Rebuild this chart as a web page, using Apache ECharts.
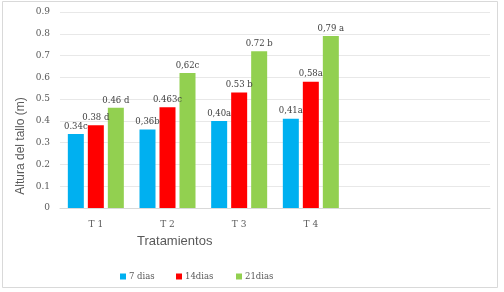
<!DOCTYPE html>
<html><head><meta charset="utf-8">
<script src="https://cdn.jsdelivr.net/npm/echarts@6/dist/echarts.min.js"></script>
<style>html,body{margin:0;padding:0;background:#fff}#c{width:504px;height:292px}</style>
</head><body><div id="c"></div>
<script>
const categories = ['T 1', 'T 2', 'T 3', 'T 4', '', ''];
const seriesNames = ['7 dias', '14dias', '21dias'];
const dias7 = [0.34, 0.36, 0.40, 0.41];
const dias14 = [0.38, 0.463, 0.53, 0.58];
const dias21 = [0.46, 0.62, 0.72, 0.79];
const labels7 = ['0.34c', '0,36b', '0,40a', '0,41a'];
const labels14 = ['0.38 d', '0.463c', '0.53 b', '0,58a'];
const labels21 = ['0.46 d', '0,62c', '0.72 b', '0,79 a'];
const colors = ['#00b0f0', '#ff0000', '#92d050'];
const serifFont = 'DejaVu Serif';
const sansFont = 'Liberation Sans';

function mk(name, vals, labs, color) {
  return {
    name: name, type: 'bar', barWidth: 16, barGap: '25%',
    itemStyle: { color: color },
    label: {
      show: true, position: 'top', distance: 3,
      fontFamily: serifFont, fontSize: 8.5, color: '#404040',
      formatter: p => labs[p.dataIndex]
    },
    data: vals
  };
}
function lg(name, left) {
  return {
    left: left, top: 267, itemWidth: 6, itemHeight: 6, icon: 'rect',
    textStyle: { fontFamily: serifFont, fontSize: 8.5, color: '#595959', padding: [0, 0, 0, -2] },
    data: [name]
  };
}
const chart = echarts.init(document.getElementById('c'), null, { renderer: 'canvas' });
chart.setOption({
  animation: false,
  backgroundColor: '#ffffff',
  grid: { left: 60, right: 14, top: 12, bottom: 84 },
  graphic: [
    { type: 'rect', shape: { x: 2.5, y: 1.5, width: 495, height: 286 }, style: { fill: 'none', stroke: '#d9d9d9', lineWidth: 1 }, silent: true },
    { type: 'text', left: 137, top: 235, style: { text: 'Tratamientos', font: '13px ' + sansFont, fill: '#595959' } },
    { type: 'text', x: 21, y: 146, rotation: Math.PI / 2, silent: true,
      style: { text: 'Altura del tallo (m)', font: '12px ' + sansFont, fill: '#595959', align: 'center', verticalAlign: 'middle' } }
  ],
  legend: [lg(seriesNames[0], 115), lg(seriesNames[1], 171), lg(seriesNames[2], 231)],
  xAxis: {
    type: 'category', data: categories,
    axisLine: { lineStyle: { color: '#d9d9d9' } },
    axisTick: { show: false },
    axisLabel: { fontFamily: serifFont, fontSize: 9, color: '#595959', margin: 12 }
  },
  yAxis: {
    type: 'value', min: 0, max: 0.9, interval: 0.1,
    axisLine: { show: false }, axisTick: { show: false },
    splitLine: { lineStyle: { color: '#e8e8e8' } },
    axisLabel: { fontFamily: serifFont, fontSize: 9, color: '#595959', margin: 10,
      formatter: v => (Math.round(v * 10) / 10).toString() }
  },
  series: [
    mk(seriesNames[0], dias7, labels7, colors[0]),
    mk(seriesNames[1], dias14, labels14, colors[1]),
    mk(seriesNames[2], dias21, labels21, colors[2])
  ]
});
</script></body></html>
